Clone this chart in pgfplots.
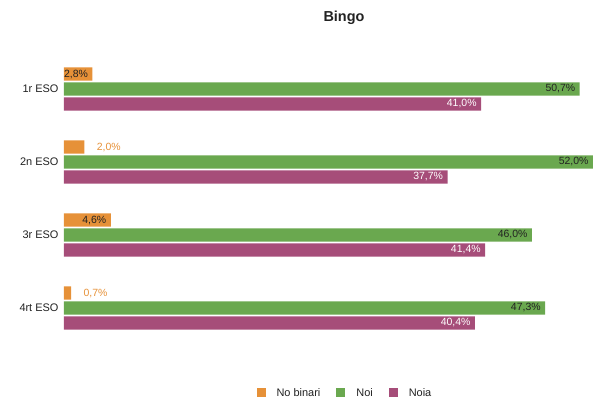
\documentclass[border=0pt]{standalone}
\usepackage{pgfplots}
\pgfplotsset{compat=1.18}
\usepackage{fontspec}
\setmainfont{Liberation Sans}
\definecolor{cOr}{HTML}{E69138}
\definecolor{cGr}{HTML}{6AA84F}
\definecolor{cPu}{HTML}{A64D79}
\definecolor{cTx}{HTML}{222222}
\begin{document}
\begin{tikzpicture}
\path[use as bounding box] (0,0) rectangle (595bp,403bp);
\node[font=\bfseries\fontsize{14.5}{16}\selectfont, text=cTx] at (344bp,385bp) {Bingo};
\begin{axis}[
  at={(64bp,58.5bp)}, anchor=south west, scale only axis,
  width=531bp, height=292bp,
  xmin=0, xmax=52.2, ymin=-0.5, ymax=3.5, y dir=reverse,
  ytick={0,1,2,3}, yticklabels={1r ESO,2n ESO,3r ESO,4rt ESO},
  xtick=\empty,
  axis line style={draw=none}, major tick length=0pt,
  yticklabel style={font=\fontsize{11}{13}\selectfont, text=cTx, xshift=-2bp},
  point meta=x,
  legend columns=3,
  legend style={draw=none, at={(0.529,-0.166)}, anchor=center,
    font=\fontsize{11}{13}\selectfont, text=cTx,
    /tikz/every odd column/.append style={column sep=9bp},
    /tikz/every even column/.append style={column sep=14bp}},
  legend image code/.code={\fill[#1] (0bp,-4.5bp) rectangle (9bp,4.5bp);},
  lbl/.style={nodes near coords={\pgfmathprintnumber[fixed,fixed zerofill,precision=1,use comma,assume math mode=true]{\pgfplotspointmeta}\%},
    every node near coord/.append style={font=\fontsize{10.5}{12}\selectfont, anchor=east, xshift=-1bp, text=#1}},
  lblout/.style={nodes near coords={\pgfmathprintnumber[fixed,fixed zerofill,precision=1,use comma,assume math mode=true]{\pgfplotspointmeta}\%},
    every node near coord/.append style={font=\fontsize{10.5}{12}\selectfont, anchor=west, xshift=9bp, text=cOr}},
]
\addplot[xbar, bar width=0.18, bar shift=0pt, fill=cOr, draw=none, lbl=cTx] coordinates {(2.8,-0.205) (4.6,1.795)};
\addlegendentry{No binari}
\addplot[xbar, bar width=0.18, bar shift=0pt, fill=cGr, draw=none, lbl=cTx] coordinates {(50.7,0) (52.0,1) (46.0,2) (47.3,3)};
\addlegendentry{Noi}
\addplot[xbar, bar width=0.18, bar shift=0pt, fill=cPu, draw=none, lbl=white] coordinates {(41.0,0.205) (37.7,1.205) (41.4,2.205) (40.4,3.205)};
\addlegendentry{Noia}
\addplot[xbar, bar width=0.18, bar shift=0pt, fill=cOr, draw=none, lblout, forget plot] coordinates {(2.0,0.795) (0.7,2.795)};
\end{axis}
\end{tikzpicture}
\end{document}
